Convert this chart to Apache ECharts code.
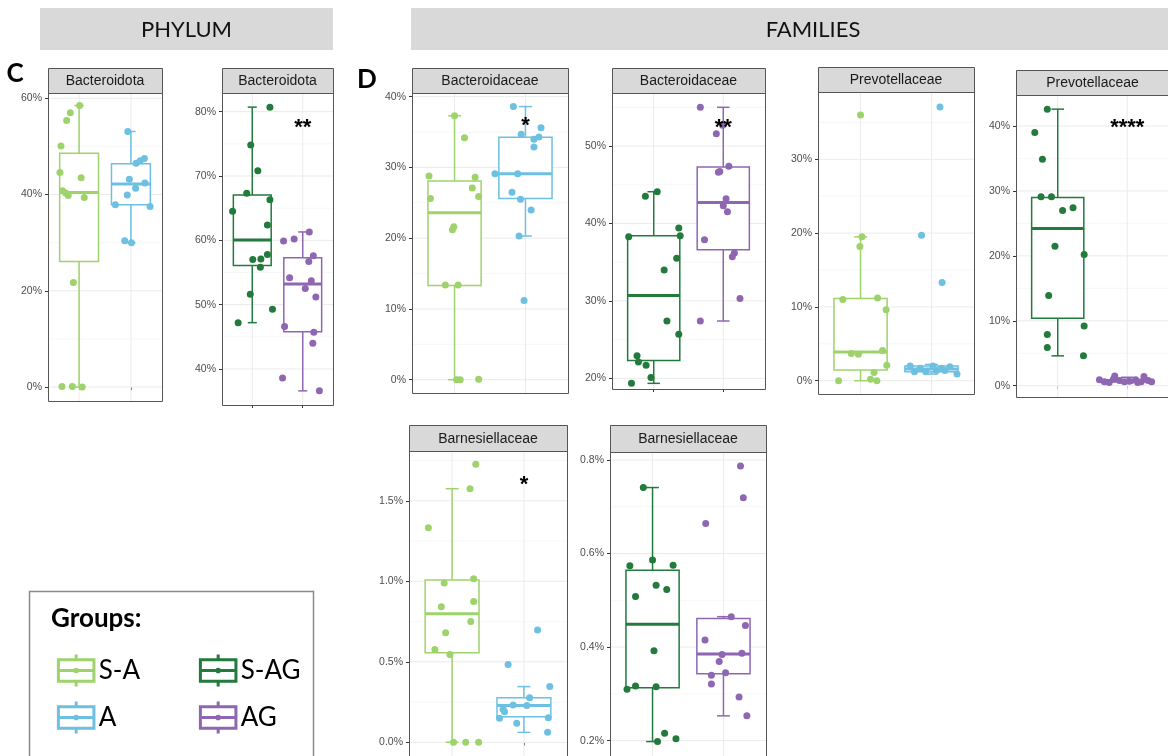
<!DOCTYPE html>
<html><head><meta charset="utf-8">
<script src="https://cdn.jsdelivr.net/npm/echarts@6/dist/echarts.min.js"></script>
<style>html,body{margin:0;padding:0;background:#fff}#chart{width:1168px;height:756px}</style>
</head><body><div id="chart"></div>
<script>
// ================= DATA =================
const groupNames = ['S-A', 'A', 'S-AG', 'AG'];
const stripTitles = ['Bacteroidota', 'Bacteroidota', 'Bacteroidaceae', 'Bacteroidaceae',
                     'Prevotellaceae', 'Prevotellaceae', 'Barnesiellaceae', 'Barnesiellaceae'];
const panelGroups = [['S-A','A'], ['S-AG','AG'], ['S-A','A'], ['S-AG','AG'],
                     ['S-A','A'], ['S-AG','AG'], ['S-A','A'], ['S-AG','AG']];
const sigLabels = ['', '**', '*', '**', '', '****', '*', ''];
const sigValues = [null, 78.2, 36.6, 53.0, null, 40.4, 1.63, null];

// tick values and tick labels per panel
const c1Ticks = [0, 20, 40, 60];        const c1TickLabels = ['0%', '20%', '40%', '60%'];
const c2Ticks = [40, 50, 60, 70, 80];   const c2TickLabels = ['40%', '50%', '60%', '70%', '80%'];
const d1Ticks = [0, 10, 20, 30, 40];    const d1TickLabels = ['0%', '10%', '20%', '30%', '40%'];
const d2Ticks = [20, 30, 40, 50];       const d2TickLabels = ['20%', '30%', '40%', '50%'];
const d3Ticks = [0, 10, 20, 30];        const d3TickLabels = ['0%', '10%', '20%', '30%'];
const d4Ticks = [0, 10, 20, 30, 40];    const d4TickLabels = ['0%', '10%', '20%', '30%', '40%'];
const d5Ticks = [0, 0.5, 1.0, 1.5];     const d5TickLabels = ['0.0%', '0.5%', '1.0%', '1.5%'];
const d6Ticks = [0.2, 0.4, 0.6, 0.8];   const d6TickLabels = ['0.2%', '0.4%', '0.6%', '0.8%'];

// box statistics [lower whisker, Q1, median, Q3, upper whisker] in %
const c1_SA_box  = [0, 26.1, 40.4, 48.6, 58.5];
const c1_A_box   = [30.0, 37.9, 42.2, 46.4, 53.1];
const c2_SAG_box = [47.2, 56.1, 60.05, 67.05, 80.7];
const c2_AG_box  = [36.6, 45.8, 53.2, 57.3, 61.3];
const d1_SA_box  = [0, 13.3, 23.6, 28.1, 37.3];
const d1_A_box   = [20.3, 25.6, 29.1, 34.25, 38.6];
const d2_SAG_box = [19.35, 22.3, 30.7, 38.4, 44.1];
const d2_AG_box  = [27.4, 36.6, 42.7, 47.3, 55.0];
const d3_SA_box  = [0, 1.45, 3.9, 11.15, 19.5];
const d3_A_box   = [0.9, 1.2, 1.6, 2.0, 2.2];
const d4_SAG_box = [4.6, 10.4, 24.2, 29.0, 42.6];
const d4_AG_box  = [0.4, 0.6, 0.75, 0.9, 1.3];
const d5_SA_box  = [0, 0.557, 0.799, 1.008, 1.575];
const d5_A_box   = [0.062, 0.159, 0.228, 0.277, 0.346];
const d6_SAG_box = [0.198, 0.313, 0.449, 0.564, 0.741];
const d6_AG_box  = [0.253, 0.343, 0.385, 0.461, 0.465];

// jittered samples: [group position (1 or 2, jittered), relative abundance %]
const c1_SA  = [[1.01,58.5],[0.83,57.0],[0.76,55.4],[0.65,50.1],[0.63,44.6],[1.04,43.5],[0.68,40.8],[0.74,40.3],[0.79,39.8],[1.10,39.4],[0.89,21.7],[0.67,0.1],[0.87,0.1],[1.06,0.0]];
const c1_A   = [[1.94,53.1],[2.26,47.5],[2.18,47.0],[2.10,46.5],[1.97,43.2],[2.27,42.4],[2.09,41.3],[1.93,39.9],[1.70,37.9],[2.37,37.5],[1.88,30.4],[2.01,30.0]];
const c2_SAG = [[1.35,80.7],[0.97,74.8],[1.11,70.8],[0.89,67.3],[1.35,66.3],[0.61,64.5],[1.30,62.4],[1.01,57.0],[1.17,57.1],[1.30,57.8],[1.16,55.8],[0.96,51.6],[1.40,49.3],[0.72,47.2]];
const c2_AG  = [[2.13,61.3],[1.83,60.2],[1.62,59.9],[2.21,57.6],[2.12,56.7],[1.74,54.2],[2.17,53.7],[2.05,52.5],[2.26,51.2],[1.64,46.6],[2.22,45.7],[2.20,44.0],[1.60,38.6],[2.33,36.6]];
const d1_SA  = [[1.00,37.3],[1.14,34.2],[0.64,28.8],[1.29,28.6],[1.25,27.1],[1.34,25.9],[0.66,25.6],[0.99,21.6],[0.97,21.2],[0.87,13.4],[1.05,13.4],[1.03,0.0],[1.08,0.0],[1.34,0.05]];
const d1_A   = [[1.83,38.6],[1.94,34.7],[2.22,35.6],[2.12,34.0],[2.19,34.3],[2.12,32.9],[1.57,29.1],[1.89,29.1],[1.81,26.5],[1.93,25.5],[2.08,24.0],[1.91,20.3],[1.98,11.2]];
const d2_SAG = [[1.05,44.1],[0.88,43.5],[1.36,39.4],[0.64,38.3],[1.38,38.4],[1.33,35.5],[1.15,34.0],[1.19,27.4],[1.36,25.7],[0.76,22.9],[0.78,22.1],[0.89,21.7],[0.96,20.1],[0.68,19.35]];
const d2_AG  = [[1.67,55.0],[1.99,52.7],[1.90,51.6],[2.08,47.4],[1.95,46.7],[1.93,46.6],[2.04,43.2],[2.00,42.3],[2.06,41.5],[1.73,37.9],[2.16,36.2],[2.13,35.7],[2.24,30.3],[1.67,27.4]];
const d3_SA  = [[1.00,36.0],[1.02,19.5],[0.99,18.2],[0.75,11.0],[1.24,11.2],[1.36,9.6],[1.31,4.1],[0.87,3.7],[0.97,3.6],[1.37,2.1],[1.19,1.1],[0.69,0.0],[1.14,0.2],[1.23,0.0]];
const d3_A   = [[2.12,37.1],[1.86,19.7],[2.15,13.3],[1.70,2.0],[1.84,1.7],[2.02,2.0],[2.14,1.7],[2.26,1.9],[1.92,1.2],[2.07,1.4],[2.36,0.9],[1.76,1.2],[2.19,1.4]];
const d4_SAG = [[0.85,42.6],[0.67,39.0],[0.78,34.9],[0.76,29.1],[0.91,29.1],[1.07,27.0],[1.22,27.4],[0.96,21.5],[1.38,20.2],[0.87,13.9],[1.38,9.2],[0.85,7.9],[0.85,5.9],[1.37,4.6]];
const d4_AG  = [[1.60,0.9],[1.67,0.6],[1.74,0.5],[1.82,1.5],[1.89,0.8],[1.96,0.6],[2.03,0.7],[2.12,0.9],[2.20,0.6],[2.24,1.4],[2.30,0.8],[2.35,0.6],[1.80,1.0],[2.15,0.5]];
const d5_SA  = [[1.33,1.726],[1.25,1.575],[0.67,1.333],[1.30,1.016],[0.89,0.989],[1.30,0.875],[0.85,0.842],[1.26,0.751],[0.91,0.681],[0.76,0.577],[0.97,0.546],[1.02,0.0],[1.19,0.0],[1.37,0.0]];
const d5_A   = [[2.19,0.697],[1.78,0.484],[2.36,0.346],[2.08,0.277],[1.85,0.232],[2.04,0.228],[1.71,0.205],[1.73,0.19],[1.66,0.149],[2.34,0.153],[1.90,0.118],[2.33,0.062]];
const d6_SAG = [[0.87,0.741],[1.00,0.586],[0.68,0.574],[1.29,0.575],[1.05,0.532],[1.20,0.523],[0.76,0.508],[1.02,0.392],[0.64,0.310],[0.76,0.317],[1.05,0.315],[1.17,0.216],[1.33,0.204],[1.07,0.198]];
const d6_AG  = [[2.24,0.787],[2.28,0.719],[1.75,0.664],[2.11,0.465],[2.31,0.446],[1.74,0.415],[1.98,0.384],[2.26,0.387],[1.94,0.369],[2.03,0.345],[1.83,0.340],[1.83,0.321],[2.22,0.293],[2.33,0.253]];

// ================= ASSEMBLY =================
const panelTicks  = [c1Ticks, c2Ticks, d1Ticks, d2Ticks, d3Ticks, d4Ticks, d5Ticks, d6Ticks];
const panelLabels = [c1TickLabels, c2TickLabels, d1TickLabels, d2TickLabels, d3TickLabels, d4TickLabels, d5TickLabels, d6TickLabels];
const panelBoxes  = [[c1_SA_box, c1_A_box], [c2_SAG_box, c2_AG_box], [d1_SA_box, d1_A_box], [d2_SAG_box, d2_AG_box],
                     [d3_SA_box, d3_A_box], [d4_SAG_box, d4_AG_box], [d5_SA_box, d5_A_box], [d6_SAG_box, d6_AG_box]];
const panelPoints = [[c1_SA, c1_A], [c2_SAG, c2_AG], [d1_SA, d1_A], [d2_SAG, d2_AG],
                     [d3_SA, d3_A], [d4_SAG, d4_AG], [d5_SA, d5_A], [d6_SAG, d6_AG]];

// layout (pixels) and axis ranges
const layout = [
  {left:48,   top:93,  width:114, height:308, stripTop:68,  min:-2.9,   max:61.1},
  {left:222,  top:93,  width:111, height:312, stripTop:68,  min:34.4,   max:82.9},
  {left:412,  top:93,  width:156, height:300, stripTop:68,  min:-1.88,  max:40.52},
  {left:612,  top:93,  width:153, height:296, stripTop:68,  min:18.62,  max:56.85},
  {left:818,  top:92,  width:156, height:302, stripTop:67,  min:-1.80,  max:39.12},
  {left:1016, top:95,  width:153, height:302, stripTop:70,  min:-1.74,  max:44.78},
  {left:409,  top:451, width:158, height:306, stripTop:425, min:-0.091, max:1.809},
  {left:610,  top:452, width:156, height:305, stripTop:425, min:0.165,  max:0.817}
];

const colors = {'S-A':'#9ed36c', 'A':'#6dc0e2', 'S-AG':'#237a3d', 'AG':'#8e66b2'};
const BOX_W = 0.75, CAP_W = 0.18;

function boxRender(groups) {
  return function (params, api) {
    const x = api.value(0);
    const lo = api.value(1), q1 = api.value(2), md = api.value(3), q3 = api.value(4), hi = api.value(5);
    const c = colors[groups[params.dataIndex]];
    const pLo = api.coord([x, lo]), pQ1 = api.coord([x, q1]), pMd = api.coord([x, md]);
    const pQ3 = api.coord([x, q3]), pHi = api.coord([x, hi]);
    const xl = api.coord([x - BOX_W / 2, md])[0], xr = api.coord([x + BOX_W / 2, md])[0];
    const cl = api.coord([x - CAP_W / 2, md])[0], cr = api.coord([x + CAP_W / 2, md])[0];
    const ls = {stroke: c, lineWidth: 1.5};
    return {type: 'group', children: [
      {type: 'line', shape: {x1: pLo[0], y1: pLo[1], x2: pQ1[0], y2: pQ1[1]}, style: ls},
      {type: 'line', shape: {x1: pQ3[0], y1: pQ3[1], x2: pHi[0], y2: pHi[1]}, style: ls},
      {type: 'line', shape: {x1: cl, y1: pLo[1], x2: cr, y2: pLo[1]}, style: ls},
      {type: 'line', shape: {x1: cl, y1: pHi[1], x2: cr, y2: pHi[1]}, style: ls},
      {type: 'rect', shape: {x: xl, y: pQ3[1], width: xr - xl, height: pQ1[1] - pQ3[1]},
        style: {fill: '#fff', stroke: c, lineWidth: 1.5}},
      {type: 'line', shape: {x1: xl, y1: pMd[1], x2: xr, y2: pMd[1]}, style: {stroke: c, lineWidth: 3}}
    ]};
  };
}

function minorTicks(t, lo, hi) {
  const step = t[1] - t[0];
  const out = [];
  for (let v = t[0] - step / 2; v < hi; v += step) {
    if (v > lo) out.push(+v.toFixed(4));
  }
  return out;
}

const grids = [], xAxes = [], yAxes = [], series = [], graphics = [];

layout.forEach((L, i) => {
  const ticks = panelTicks[i], labels = panelLabels[i];
  grids.push({left: L.left, top: L.top, width: L.width, height: L.height, show: false,
              containLabel: false, outerBoundsMode: 'none'});
  xAxes.push({gridIndex: i, type: 'value', min: 0.4, max: 2.6,
    axisLine: {show: false}, splitLine: {show: false}, axisLabel: {show: false},
    axisTick: {show: true, customValues: [1, 2], length: 3, lineStyle: {color: '#333', width: 1}}});
  yAxes.push({gridIndex: i, type: 'value', min: L.min, max: L.max,
    axisLine: {show: false}, splitLine: {show: false},
    axisTick: {show: true, customValues: ticks, length: 3, lineStyle: {color: '#333', width: 1}},
    axisLabel: {show: true, customValues: ticks, margin: 6, color: '#4d4d4d', fontSize: 10.5,
      fontFamily: 'Liberation Sans',
      formatter: v => { const k = ticks.findIndex(t => Math.abs(t - v) < 1e-9); return k >= 0 ? labels[k] : ''; }}});

  // grid lines: kind 0 = major horizontal, 1 = minor horizontal, 2 = vertical
  const gl = ticks.map(v => [0, v]).concat(minorTicks(ticks, L.min, L.max).map(v => [1, v])).concat([[2, 1], [2, 2]]);
  series.push({type: 'custom', xAxisIndex: i, yAxisIndex: i, silent: true, z: 1, animation: false,
    data: gl, encode: {x: -1, y: -1},
    renderItem: (params, api) => {
      const kind = api.value(0), v = api.value(1);
      let p1, p2;
      if (kind === 2) { p1 = api.coord([v, L.min]); p2 = api.coord([v, L.max]); }
      else { p1 = api.coord([0.4, v]); p2 = api.coord([2.6, v]); }
      return {type: 'line', shape: {x1: p1[0], y1: p1[1], x2: p2[0], y2: p2[1]},
        style: {stroke: kind === 1 ? '#f4f4f4' : '#ebebeb', lineWidth: kind === 1 ? 0.7 : 1}};
    }});

  // boxes
  const groups = panelGroups[i];
  series.push({type: 'custom', xAxisIndex: i, yAxisIndex: i, silent: true, z: 2, animation: false,
    data: panelBoxes[i].map((b, k) => [k + 1].concat(b)),
    encode: {x: 0, y: [1, 2, 3, 4, 5]},
    renderItem: boxRender(groups)});

  // points
  groups.forEach((g, k) => {
    series.push({type: 'scatter', name: g, xAxisIndex: i, yAxisIndex: i, silent: true, z: 3,
      animation: false, symbolSize: 7, data: panelPoints[i][k],
      itemStyle: {color: colors[g], opacity: 1}});
  });

  // significance stars
  if (sigLabels[i]) {
    const txt = sigLabels[i];
    series.push({type: 'custom', xAxisIndex: i, yAxisIndex: i, silent: true, z: 4, animation: false,
      data: [[2, sigValues[i]]],
      renderItem: (params, api) => {
        const p = api.coord([api.value(0), api.value(1)]);
        return {type: 'text', x: p[0], y: p[1] + 5,
          style: {text: txt, fill: '#000', font: 'bold 22px "Liberation Sans"',
                  textAlign: 'center', textVerticalAlign: 'middle'}};
      }});
  }

  // strip + panel border
  graphics.push({type: 'rect', z: 100, silent: true,
    shape: {x: L.left + 0.5, y: L.stripTop + 0.5, width: L.width, height: L.top - L.stripTop},
    style: {fill: '#d9d9d9', stroke: '#555', lineWidth: 1}});
  graphics.push({type: 'text', z: 101, silent: true,
    x: L.left + L.width / 2, y: (L.stripTop + L.top) / 2 + 1,
    style: {text: stripTitles[i], fill: '#1a1a1a', font: '14px "Liberation Sans"',
            textAlign: 'center', textVerticalAlign: 'middle'}});
  graphics.push({type: 'rect', z: 100, silent: true,
    shape: {x: L.left + 0.5, y: L.top + 0.5, width: L.width, height: L.height},
    style: {fill: 'none', stroke: '#555', lineWidth: 1}});
});

// headers
graphics.push({type: 'rect', silent: true, shape: {x: 40, y: 8, width: 293, height: 42}, style: {fill: '#d9d9d9'}});
graphics.push({type: 'text', silent: true, x: 186.5, y: 30,
  style: {text: 'PHYLUM', fill: '#111', font: '22px Lato', textAlign: 'center', textVerticalAlign: 'middle'}});
graphics.push({type: 'rect', silent: true, shape: {x: 411, y: 8, width: 800, height: 42}, style: {fill: '#d9d9d9'}});
graphics.push({type: 'text', silent: true, x: 813, y: 30,
  style: {text: 'FAMILIES', fill: '#111', font: '22px Lato', textAlign: 'center', textVerticalAlign: 'middle'}});
// panel letters
graphics.push({type: 'text', silent: true, x: 15, y: 74,
  style: {text: 'C', fill: '#000', font: 'bold 26px Lato', textAlign: 'center', textVerticalAlign: 'middle'}});
graphics.push({type: 'text', silent: true, x: 367, y: 80,
  style: {text: 'D', fill: '#000', font: 'bold 26px Lato', textAlign: 'center', textVerticalAlign: 'middle'}});
// legend frame
graphics.push({type: 'rect', silent: true, shape: {x: 29.5, y: 591.5, width: 284, height: 200},
  style: {fill: '#fff', stroke: '#8a8a8a', lineWidth: 1.5}});
graphics.push({type: 'text', silent: true, x: 51, y: 619,
  style: {text: 'Groups:', fill: '#000', font: 'bold 26px Lato', textAlign: 'left', textVerticalAlign: 'middle'}});

const boxIcon = 'path://M21 0 L21 6 M1 6 L41 6 L41 30 L1 30 Z M0 18 L41 18 M21 30 L21 36 ' +
                'M19.5 18 A1.5 1.5 0 1 1 22.5 18 A1.5 1.5 0 1 1 19.5 18 Z';
function legendItem(name) {
  return {name: name, icon: boxIcon, itemStyle: {color: 'rgba(255,255,255,0)', borderColor: colors[name], borderWidth: 3}};
}
const legendCommon = {orient: 'vertical', itemWidth: 40, itemHeight: 32, itemGap: 12, selectedMode: false,
  textStyle: {fontFamily: 'Lato', fontSize: 26, color: '#000', padding: [0, 0, 0, -2]}, z: 50};

const option = {
  backgroundColor: '#fff',
  animation: false,
  grid: grids, xAxis: xAxes, yAxis: yAxes, series: series,
  legend: [
    Object.assign({left: 51, top: 648, data: [legendItem('S-A'), legendItem('A')]}, legendCommon),
    Object.assign({left: 193, top: 648, data: [legendItem('S-AG'), legendItem('AG')]}, legendCommon)
  ],
  graphic: {elements: graphics}
};

const chart = echarts.init(document.getElementById('chart'));
chart.setOption(option);
</script>
</body></html>
